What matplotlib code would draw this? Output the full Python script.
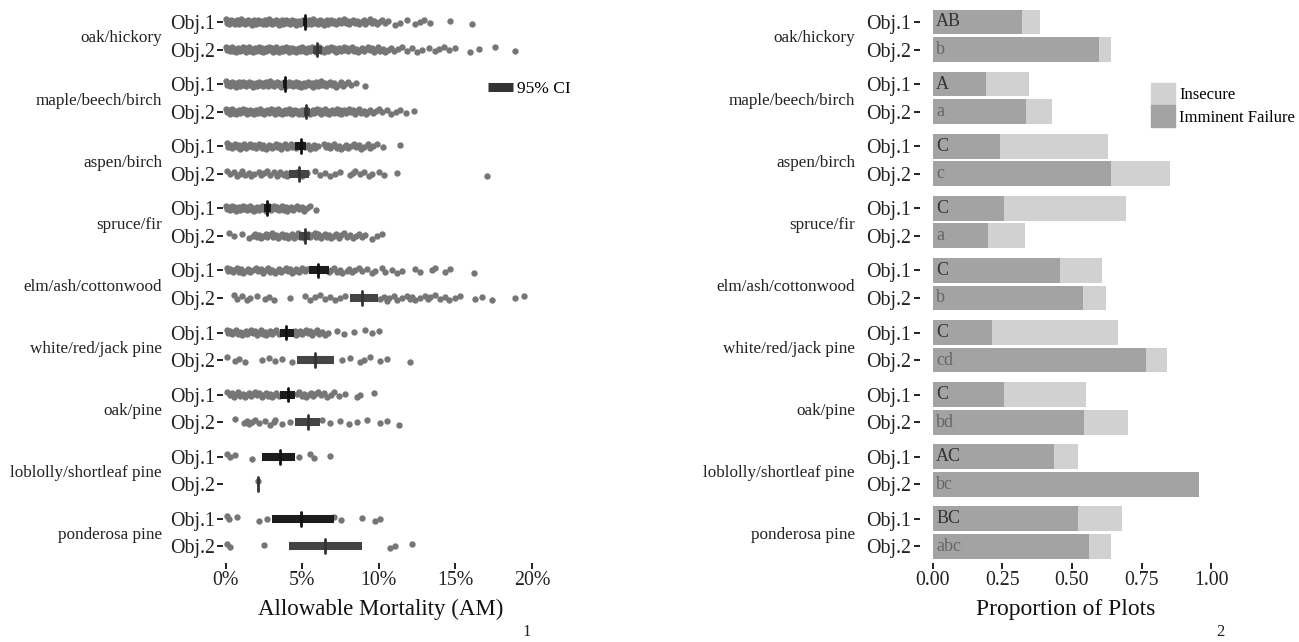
import numpy as np
import matplotlib
matplotlib.use('Agg')
from matplotlib import pyplot as plt
from matplotlib.lines import Line2D
from matplotlib.patches import Patch

plt.rcParams['font.family'] = ['Liberation Serif', 'DejaVu Serif']

# groupes (du haut vers le bas)
groupes = ['oak/hickory', 'maple/beech/birch', 'aspen/birch', 'spruce/fir',
           'elm/ash/cottonwood', 'white/red/jack pine', 'oak/pine',
           'loblolly/shortleaf pine', 'ponderosa pine']
objectifs = ['Obj.1', 'Obj.2']

# AM (%) par parcelle
oak_hickory_1 = [0.0, 0.05, 0.12, 0.2, 0.3, 0.35, 0.45, 0.5, 0.6, 0.7, 0.75, 0.85, 0.95, 1.0,
                 1.1, 1.2, 1.25, 1.35, 1.45, 1.5, 1.6, 1.7, 1.8, 1.85, 1.95, 2.05, 2.1, 2.2,
                 2.3, 2.4, 2.45, 2.55, 2.65, 2.7, 2.8, 2.9, 3.0, 3.05, 3.15, 3.25, 3.3, 3.4,
                 3.5, 3.6, 3.65, 3.75, 3.85, 3.9, 4.0, 4.1, 4.2, 4.25, 4.35, 4.45, 4.5, 4.6,
                 4.7, 4.8, 4.85, 4.95, 5.05, 5.1, 5.2, 5.3, 5.4, 5.45, 5.55, 5.65, 5.7, 5.8,
                 5.9, 6.0, 6.05, 6.15, 6.25, 6.3, 6.4, 6.5, 6.6, 6.7, 6.8, 6.9, 7.0, 7.1, 7.2,
                 7.3, 7.4, 7.5, 7.6, 7.7, 7.85, 7.95, 8.05, 8.2, 8.3, 8.45, 8.55, 8.7, 8.85,
                 9.0, 9.1, 9.25, 9.4, 9.55, 9.7, 9.85, 10.0, 10.2, 10.4, 10.6, 11.07, 11.4,
                 11.83, 12.37, 12.7, 12.92, 13.36, 14.66, 16.08]
oak_hickory_2 = [0.0, 0.08, 0.15, 0.25, 0.32, 0.4, 0.5, 0.58, 0.65, 0.75, 0.82, 0.9, 1.0, 1.1,
                 1.15, 1.25, 1.35, 1.4, 1.5, 1.6, 1.65, 1.75, 1.85, 1.9, 2.0, 2.1, 2.15, 2.25,
                 2.35, 2.4, 2.5, 2.6, 2.65, 2.75, 2.85, 2.9, 3.0, 3.1, 3.15, 3.25, 3.35, 3.4,
                 3.5, 3.6, 3.65, 3.75, 3.85, 3.9, 4.0, 4.1, 4.15, 4.25, 4.35, 4.4, 4.5, 4.6,
                 4.65, 4.75, 4.85, 4.9, 5.0, 5.1, 5.15, 5.25, 5.35, 5.4, 5.5, 5.6, 5.65, 5.75,
                 5.85, 5.9, 6.0, 6.1, 6.2, 6.3, 6.4, 6.5, 6.6, 6.7, 6.8, 6.9, 7.0, 7.1, 7.2,
                 7.3, 7.4, 7.5, 7.6, 7.7, 7.8, 7.9, 8.0, 8.15, 8.25, 8.4, 8.5, 8.65, 8.75, 8.9,
                 9.0, 9.15, 9.3, 9.4, 9.55, 9.7, 9.8, 9.95, 10.1, 10.25, 10.4, 10.6, 10.8,
                 11.0, 11.25, 11.5, 11.83, 12.16, 12.49, 12.81, 13.25, 13.68, 13.9, 14.23,
                 14.55, 14.99, 15.97, 16.51, 17.6, 18.9]
maple_1 = [0.0, 0.08, 0.15, 0.25, 0.32, 0.4, 0.5, 0.58, 0.65, 0.75, 0.85, 0.9, 1.0, 1.1, 1.2,
           1.25, 1.35, 1.45, 1.5, 1.6, 1.7, 1.8, 1.85, 1.95, 2.05, 2.1, 2.2, 2.3, 2.4, 2.45,
           2.55, 2.65, 2.75, 2.8, 2.9, 3.0, 3.1, 3.15, 3.25, 3.35, 3.45, 3.5, 3.6, 3.7, 3.8,
           3.9, 4.0, 4.1, 4.2, 4.3, 4.4, 4.5, 4.6, 4.7, 4.8, 4.9, 5.0, 5.1, 5.2, 5.3, 5.4,
           5.5, 5.6, 5.7, 5.8, 5.9, 6.0, 6.1, 6.2, 6.3, 6.45, 6.55, 6.7, 6.8, 6.95, 7.05,
           7.2, 7.35, 7.5, 7.65, 7.8, 7.95, 8.2, 8.5, 9.1]
maple_2 = [0.0, 0.08, 0.18, 0.25, 0.35, 0.42, 0.5, 0.6, 0.68, 0.78, 0.85, 0.95, 1.05, 1.12,
           1.2, 1.3, 1.4, 1.48, 1.55, 1.65, 1.75, 1.82, 1.9, 2.0, 2.1, 2.18, 2.25, 2.35, 2.45,
           2.52, 2.6, 2.7, 2.8, 2.88, 2.95, 3.05, 3.15, 3.22, 3.3, 3.4, 3.5, 3.58, 3.65,
           3.75, 3.85, 3.92, 4.0, 4.1, 4.2, 4.28, 4.35, 4.45, 4.55, 4.62, 4.7, 4.8, 4.9,
           4.98, 5.05, 5.15, 5.25, 5.32, 5.4, 5.5, 5.6, 5.68, 5.75, 5.85, 5.95, 6.05, 6.15,
           6.25, 6.35, 6.45, 6.55, 6.65, 6.75, 6.85, 6.95, 7.05, 7.15, 7.25, 7.35, 7.45,
           7.55, 7.65, 7.75, 7.85, 7.95, 8.05, 8.2, 8.3, 8.45, 8.55, 8.7, 8.85, 9.0, 9.15,
           9.3, 9.45, 9.6, 9.8, 10.0, 10.2, 10.5, 10.8, 11.1, 11.4, 11.8, 12.3]
aspen_1 = [0.05, 0.15, 0.25, 0.4, 0.5, 0.6, 0.75, 0.85, 0.95, 1.1, 1.2, 1.35, 1.45, 1.6, 1.7,
           1.85, 2.0, 2.1, 2.2, 2.35, 2.45, 2.6, 2.75, 2.85, 3.0, 3.1, 3.25, 3.35, 3.5, 3.6,
           3.75, 3.85, 4.0, 4.1, 4.25, 4.35, 4.5, 4.6, 4.8, 5.0, 5.2, 5.35, 5.5, 5.6, 5.75,
           5.85, 6.0, 6.4, 6.55, 6.65, 6.8, 6.95, 7.05, 7.25, 7.4, 7.5, 7.7, 7.85, 7.95, 8.2,
           8.35, 8.5, 8.7, 8.85, 9.0, 9.3, 9.45, 9.6, 9.9, 10.3, 11.4]
aspen_2 = [0.08, 0.3, 0.51, 0.73, 0.9, 1.06, 1.27, 1.49, 1.65, 1.82, 2.14, 2.3, 2.47, 2.69, 2.9,
           3.12, 3.34, 3.45, 3.56, 3.78, 3.9, 4.0, 4.32, 4.65, 4.97, 5.3, 5.85, 6.17, 6.5,
           6.82, 7.15, 7.48, 8.13, 8.3, 8.46, 8.78, 9.0, 9.33, 9.54, 9.98, 10.31, 11.18,
           17.06]
spruce_1 = [0.0, 0.08, 0.15, 0.25, 0.32, 0.42, 0.5, 0.6, 0.68, 0.78, 0.85, 0.95, 1.05, 1.12,
            1.22, 1.3, 1.4, 1.5, 1.58, 1.68, 1.75, 1.85, 1.95, 2.05, 2.15, 2.25, 2.35, 2.45,
            2.55, 2.65, 2.75, 2.85, 2.95, 3.05, 3.15, 3.25, 3.35, 3.45, 3.55, 3.65, 3.8, 3.9,
            4.0, 4.15, 4.25, 4.4, 4.5, 4.65, 4.8, 4.95, 5.1, 5.3, 5.5, 5.9]
spruce_2 = [0.19, 0.51, 1.06, 1.49, 1.75, 1.93, 2.05, 2.2, 2.3, 2.45, 2.6, 2.7, 2.85, 3.0,
            3.1, 3.25, 3.4, 3.5, 3.65, 3.8, 3.9, 4.05, 4.2, 4.3, 4.45, 4.6, 4.7, 4.85, 5.0,
            5.1, 5.25, 5.4, 5.5, 5.65, 5.8, 5.9, 6.05, 6.2, 6.3, 6.45, 6.6, 6.75, 6.9, 7.05,
            7.2, 7.4, 7.55, 7.7, 7.9, 8.1, 8.3, 8.5, 8.7, 8.9, 9.1, 9.54, 9.87, 10.2]
elm_1 = [0.05, 0.15, 0.3, 0.45, 0.55, 0.7, 0.85, 1.0, 1.1, 1.3, 1.45, 1.55, 1.75, 2.0, 2.1,
         2.3, 2.4, 2.6, 2.75, 2.9, 3.0, 3.2, 3.35, 3.5, 3.6, 3.8, 3.9, 4.05, 4.2, 4.35, 4.5,
         4.6, 4.75, 4.9, 5.0, 5.15, 5.3, 6.75, 6.9, 7.1, 7.26, 7.45, 7.59, 7.91, 8.05, 8.24,
         8.46, 8.7, 8.89, 9.22, 9.54, 9.76, 10.2, 10.42, 10.85, 11.18, 11.5, 12.37, 12.7,
         13.47, 13.68, 14.34, 14.66, 16.19]
elm_2 = [0.51, 0.73, 1.06, 1.38, 1.6, 2.03, 2.58, 2.8, 3.12, 4.21, 5.19, 5.52, 5.85, 6.17, 6.5,
         6.82, 7.15, 7.48, 7.8, 10.09, 10.31, 10.5, 10.64, 10.96, 11.18, 11.5, 11.83, 12.0,
         12.16, 12.37, 12.7, 13.03, 13.2, 13.36, 13.68, 14.01, 14.34, 14.55, 14.99, 15.32,
         16.3, 16.73, 17.39, 18.91, 19.45]
white_1 = [0.05, 0.15, 0.3, 0.4, 0.55, 0.65, 0.8, 0.9, 1.05, 1.15, 1.3, 1.4, 1.55, 1.65, 1.8,
           1.9, 2.05, 2.15, 2.3, 2.4, 2.55, 2.65, 2.8, 2.9, 3.05, 3.15, 3.3, 3.45, 4.5, 4.6,
           4.75, 4.85, 5.0, 5.1, 5.25, 5.35, 5.5, 5.65, 5.8, 5.95, 6.1, 6.3, 6.5, 6.7, 7.26,
           7.7, 8.35, 9.11, 9.54, 9.98]
white_2 = [0.08, 0.62, 0.84, 1.27, 2.36, 2.8, 3.23, 3.67, 4.32, 7.59, 8.13, 8.78, 9.0, 9.43,
           10.09, 10.53, 12.05]
oak_pine_1 = [0.1, 0.25, 0.4, 0.55, 0.7, 0.8, 0.95, 1.1, 1.25, 1.35, 1.5, 1.65, 1.8, 1.9,
              2.05, 2.2, 2.35, 2.45, 2.6, 2.75, 2.9, 3.0, 3.15, 3.3, 3.45, 4.65, 4.8, 4.95,
              5.1, 5.25, 5.4, 5.55, 5.7, 5.85, 6.0, 6.2, 6.4, 6.6, 6.85, 7.1, 7.4, 7.8, 8.57,
              8.78, 9.65]
oak_pine_2 = [0.62, 1.17, 1.38, 1.49, 1.71, 1.93, 2.14, 2.58, 2.9, 3.12, 3.23, 3.67, 4.21, 6.28,
              6.82, 7.48, 8.02, 8.57, 9.22, 10.09, 10.53, 11.29]
loblolly_1 = [0.08, 0.3, 0.62, 1.71, 4.76, 5.52, 5.74, 6.82]
loblolly_2 = [2.1]
ponderosa_1 = [0.08, 0.19, 0.73, 2.14, 2.69, 7.04, 7.54, 8.89, 9.76, 10.09]
ponderosa_2 = [0.08, 0.3, 2.47, 10.74, 11.07, 12.16]

am_1 = [oak_hickory_1, maple_1, aspen_1, spruce_1, elm_1, white_1, oak_pine_1, loblolly_1, ponderosa_1]
am_2 = [oak_hickory_2, maple_2, aspen_2, spruce_2, elm_2, white_2, oak_pine_2, loblolly_2, ponderosa_2]

# mediane et IC 95%
med_1 = [5.15, 3.84, 4.91, 2.69, 6.02, 3.95, 4.04, 3.52, 4.93]
ic_bas_1 = [5.02, 3.73, 4.54, 2.47, 5.41, 3.56, 3.56, 2.36, 3.01]
ic_haut_1 = [5.32, 3.95, 5.24, 2.95, 6.72, 4.43, 4.54, 4.54, 7.04]
med_2 = [5.95, 5.24, 4.76, 5.15, 8.89, 5.85, 5.37, 2.10, 6.46]
ic_bas_2 = [5.67, 5.08, 4.15, 4.80, 8.13, 4.65, 4.54, 2.08, 4.10]
ic_haut_2 = [6.28, 5.52, 5.45, 5.52, 9.94, 7.04, 6.17, 2.12, 8.89]

# proportions de parcelles
imminent_1 = [0.319, 0.189, 0.241, 0.256, 0.458, 0.213, 0.256, 0.436, 0.521]
insecure_1 = [0.067, 0.155, 0.389, 0.437, 0.151, 0.453, 0.293, 0.086, 0.160]
imminent_2 = [0.596, 0.334, 0.639, 0.198, 0.539, 0.766, 0.542, 0.958, 0.560]
insecure_2 = [0.045, 0.094, 0.213, 0.133, 0.082, 0.075, 0.159, 0.0, 0.079]
lettres_1 = ['AB', 'A', 'C', 'C', 'C', 'C', 'C', 'AC', 'BC']
lettres_2 = ['b', 'a', 'c', 'a', 'b', 'cd', 'bd', 'bc', 'abc']

# positions verticales
G = 2.258
y1 = np.arange(len(groupes)) * G
y2 = y1 + 1
yticks = np.ravel(np.column_stack([y1, y2]))
ylabels = objectifs * len(groupes)

W, H = 1299, 642
fig = plt.figure(figsize=(W / 100, H / 100), dpi=100)
bas = 1 - 563 / H
haut = 558 / H
ax1 = fig.add_axes([223.5 / W, bas, 314.6 / W, haut])
ax2 = fig.add_axes([919.6 / W, bas, 293.1 / W, haut])

def Habillage(ax, decal):
    for s in ax.spines.values():
        s.set_visible(False)
    ax.set_ylim(19.67, -0.618)
    ax.set_yticks(yticks, ylabels)
    ax.tick_params(axis='both', length=4, width=1.4, color='#222222', labelsize=14.3,
                   labelcolor='#222222', pad=2)
    for i, g in enumerate(groupes):
        ax.annotate(g, xy=(0, y1[i] + 0.6), xycoords=('axes fraction', 'data'),
                    xytext=(-decal, 0), textcoords='offset points',
                    ha='right', va='center', fontsize=12.3, color='#222222')

# panneau 1 - nuages de points
for i in range(len(groupes)):
    for yy, vals in ((y1[i], am_1[i]), (y2[i], am_2[i])):
        n = len(vals)
        jit = ((np.arange(n) * 0.6180339) % 1 - 0.5) * 0.2
        ax1.scatter(vals, yy + jit, s=21, color='#767676', linewidths=0, zorder=2)
    ax1.plot([ic_bas_1[i], ic_haut_1[i]], [y1[i], y1[i]], color='#1c1c1c', lw=5.8,
             solid_capstyle='butt', zorder=3)
    ax1.plot([ic_bas_2[i], ic_haut_2[i]], [y2[i], y2[i]], color='#444444', lw=5.8,
             solid_capstyle='butt', zorder=3)
    ax1.plot([med_1[i], med_1[i]], [y1[i] - 0.25, y1[i] + 0.25], color='#111111', lw=2,
             solid_capstyle='round', zorder=4)
    ax1.plot([med_2[i], med_2[i]], [y2[i] - 0.25, y2[i] + 0.25], color='#333333', lw=2,
             solid_capstyle='round', zorder=4)

ax1.set_xlim(-0.15, 20.4)
ax1.set_xticks([0, 5, 10, 15, 20], ['0%', '5%', '10%', '15%', '20%'])
ax1.set_xlabel('Allowable Mortality (AM)', fontsize=16.5, color='#111111', labelpad=6)
Habillage(ax1, 44.3)
ax1.legend(handles=[Line2D([], [], color='#333333', lw=6.5, solid_capstyle='butt')],
           labels=['95% CI'], loc='center left', bbox_to_anchor=(488 / W, 1 - 89 / H),
           bbox_transform=fig.transFigure, frameon=False, fontsize=12.5,
           handlelength=1.45, handletextpad=0.2, borderpad=0, borderaxespad=0)

# panneau 2 - barres empilees
ax2.barh(y1, imminent_1, height=0.9, color='#a3a3a3', zorder=2)
ax2.barh(y1, insecure_1, left=imminent_1, height=0.9, color='#d1d1d1', zorder=2)
ax2.barh(y2, imminent_2, height=0.9, color='#a3a3a3', zorder=2)
ax2.barh(y2, insecure_2, left=imminent_2, height=0.9, color='#d1d1d1', zorder=2)
for i in range(len(groupes)):
    ax2.text(0.012, y1[i], lettres_1[i], ha='left', va='center', fontsize=13,
             color='#333333', zorder=3)
    ax2.text(0.012, y2[i], lettres_2[i], ha='left', va='center', fontsize=13,
             color='#666666', zorder=3)

ax2.set_xlim(-0.048, 1.006)
ax2.set_xticks([0, 0.25, 0.5, 0.75, 1.0], ['0.00', '0.25', '0.50', '0.75', '1.00'])
ax2.set_xlabel('Proportion of Plots', fontsize=17, color='#111111', labelpad=6)
Habillage(ax2, 46.5)
ax2.legend(handles=[Patch(color='#d1d1d1'), Patch(color='#a3a3a3')],
           labels=['Insecure', 'Imminent Failure'], loc='center left',
           bbox_to_anchor=(1151 / W, 1 - 105 / H), bbox_transform=fig.transFigure,
           frameon=False, fontsize=12, handlelength=1.45, handleheight=1.65,
           handletextpad=0.25, labelspacing=0.05, borderpad=0, borderaxespad=0)

fig.text(527 / W, 1 - 632 / H, '1', ha='center', va='center', fontsize=12, color='#222222')
fig.text(1220 / W, 1 - 632 / H, '2', ha='center', va='center', fontsize=12, color='#222222')

fig.savefig('out.png', dpi=100, facecolor='white')
